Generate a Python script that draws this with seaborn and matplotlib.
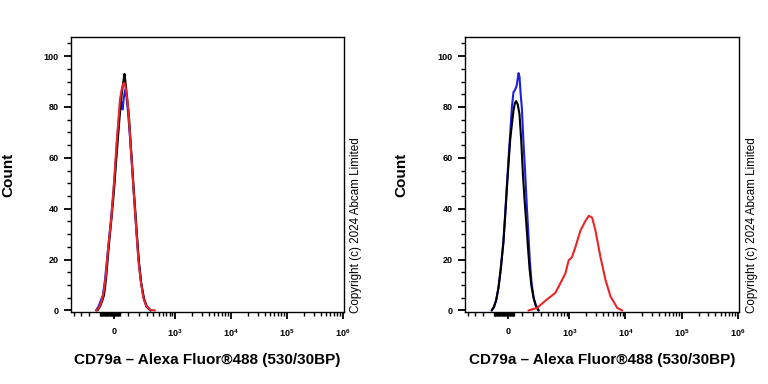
import numpy as np
import pandas as pd
import matplotlib
matplotlib.use("Agg")
import matplotlib.pyplot as plt
import seaborn as sns

# histogram traces (intensity, count)
left_blue_x = [-133, -112, -96, -77, -62, -37, -20, -3, 10, 20, 30.5, 41, 51, 59, 69, 80, 88,
               100, 116, 128, 146, 160, 180, 195, 223, 252, 290, 349]
left_blue_y = [0, 1.5, 3.5, 6, 12, 26, 36, 47, 57, 66, 74, 80, 82, 79, 84, 87, 84,
               78, 68, 60, 48, 39, 28, 20, 11, 5, 1.5, 0]
left_black_x = [-120, -100, -84, -69, -55, -34, -17, 0, 13.5, 27, 41, 51, 62, 73, 80, 88,
                100, 108, 120, 133, 151, 165, 180, 200, 223, 259, 297, 356]
left_black_y = [0, 1.5, 3.5, 6, 12, 26, 36, 47, 58, 68, 78, 84, 89, 93, 90, 86,
                80, 76, 67, 58, 46, 38, 29, 19, 11, 4.5, 1.5, 0]
left_red_x = [-127, -104, -88, -74, -59, -39, -20, -5, 6.7, 18, 30.5, 41, 53, 64, 72, 80, 92,
              102, 116, 130, 144, 160, 177, 193, 217, 249, 284, 341, 426]
left_red_y = [0, 1.5, 3.5, 6.5, 12, 25, 35, 46, 56, 66, 75, 83, 87, 89, 89.5, 88, 84,
              79, 69, 59, 49, 39, 29, 20, 12, 5, 2, 0.3, 0]

right_blue_x = [-120, -100, -84, -67, -51, -32, -20, -9, 2, 13.5, 25, 36, 48, 59, 72, 79, 88,
                97, 110, 124, 137, 151, 165, 182, 204, 228, 262]
right_blue_y = [0, 1.5, 4, 8.8, 16, 27, 38, 48.5, 59, 69, 79.7, 85.8, 86.8, 88.5, 93.3, 92, 85,
                79.7, 66, 54, 42, 31, 20, 11, 5, 2, 0]
right_black_x = [-118, -100, -84, -67, -51, -32, -20, -9, 2, 13.5, 25, 36, 46, 55, 66, 79, 92,
                 105, 118, 133, 148, 163, 182, 204, 228, 262]
right_black_y = [0, 1.5, 4, 8.8, 16, 26.8, 37, 47.5, 57, 66.9, 73, 78.5, 81.5, 82.3, 81, 77.2, 67,
                 54, 44, 34.6, 25, 16.5, 9.5, 4.9, 2, 0]
right_red_x = [153, 242, 384, 554, 687, 846, 972, 1118, 1284, 1581, 1942, 2225, 2560,
               2931, 3600, 4426, 5437, 7167, 8790]
right_red_y = [0, 1, 4.3, 6.9, 10.7, 14.5, 19.7, 21, 24.9, 31.4, 35.2, 37.2, 36.5,
               31.4, 21, 12, 5.5, 1, 0]

samples = ["Blue", "Black", "Red"]
colors = {"Blue": "#1f1fe0", "Black": "#000000", "Red": "#e8262a"}

xlabel = "CD79a \u2013 Alexa Fluor\u00ae488 (530/30BP)"
ylabel = "Count"
copyright_text = "Copyright (c) 2024 Abcam Limited"
major_ticks = [0, 1e3, 1e4, 1e5, 1e6]
major_labels = ["0", "10$^3$", "10$^4$", "10$^5$", "10$^6$"]


def build_frame(traces):
    rows = []
    for name, (xs, ys) in zip(samples, traces):
        for x, y in zip(xs, ys):
            rows.append({"Intensity": x, "Count": y, "Sample": name})
    return pd.DataFrame(rows)


def fwd(x):
    return np.arcsinh(np.asarray(x, dtype=float) / 164.0)


def inv(y):
    return 164.0 * np.sinh(np.asarray(y, dtype=float))


def minor_ticks():
    ticks = [-400, -300, -200, -100]
    ticks += list(range(-95, 45, 5))
    ticks += list(range(100, 1000, 100))
    for dec in [1e3, 1e4, 1e5]:
        ticks += [dec * k for k in range(2, 10)]
    return ticks


def draw_panel(ax, df):
    sns.lineplot(data=df, x="Intensity", y="Count", hue="Sample",
                 hue_order=samples, palette=colors, sort=False,
                 estimator=None, linewidth=1.5, legend=False, ax=ax)
    ax.set_xscale("function", functions=(fwd, inv))
    ax.set_xlim(-466, 1.05e6)
    ax.set_ylim(-0.6, 107.5)

    ax.set_xticks(major_ticks)
    ax.set_xticklabels(major_labels)
    ax.set_xticks(minor_ticks(), minor=True)
    ax.set_yticks([0, 20, 40, 60, 80, 100])
    ax.set_yticks(list(range(5, 110, 5)), minor=True)

    ax.tick_params(axis="both", which="major", direction="out", length=5,
                   width=1.3, labelsize=6.5, colors="black", pad=4)
    ax.tick_params(axis="both", which="minor", direction="out", length=3,
                   width=1.0, colors="black")
    ax.tick_params(axis="x", which="major", pad=6)
    plt.setp(ax.get_xticklabels(), fontweight="bold")
    plt.setp(ax.get_yticklabels(), fontweight="bold")

    for side in ["top", "right", "left", "bottom"]:
        ax.spines[side].set_visible(True)
        ax.spines[side].set_color("black")
        ax.spines[side].set_linewidth(1.0)

    ax.set_xlabel(xlabel, fontsize=11, fontweight="bold", color="black")
    ax.set_ylabel(ylabel, fontsize=11, fontweight="bold", color="black")
    ax.xaxis.set_label_coords(0.5, -0.15)
    ax.yaxis.set_label_coords(-0.205, 0.5)


def main():
    sns.set_style("ticks")
    plt.rcParams["font.family"] = ["Liberation Sans", "DejaVu Sans"]
    plt.rcParams["mathtext.fontset"] = "custom"
    plt.rcParams["mathtext.rm"] = "Liberation Sans:bold"
    plt.rcParams["mathtext.it"] = "Liberation Sans:bold"

    fig = plt.figure(figsize=(7.68, 3.84), dpi=100)
    ax1 = fig.add_axes([71 / 768, 1 - 312 / 384, 273 / 768, 275 / 384])
    ax2 = fig.add_axes([465 / 768, 1 - 312 / 384, 274 / 768, 275 / 384])

    left = build_frame([(left_blue_x, left_blue_y), (left_black_x, left_black_y),
                        (left_red_x, left_red_y)])
    right = build_frame([(right_blue_x, right_blue_y), (right_black_x, right_black_y),
                         (right_red_x, right_red_y)])
    draw_panel(ax1, left)
    draw_panel(ax2, right)

    fig.text(356 / 768, 1 - 313 / 384, copyright_text, rotation=90,
             ha="center", va="bottom", fontsize=8.4, color="black")
    fig.text(752 / 768, 1 - 313 / 384, copyright_text, rotation=90,
             ha="center", va="bottom", fontsize=8.4, color="black")

    fig.savefig("out.png", dpi=100)
    plt.close(fig)


if __name__ == "__main__":
    main()
